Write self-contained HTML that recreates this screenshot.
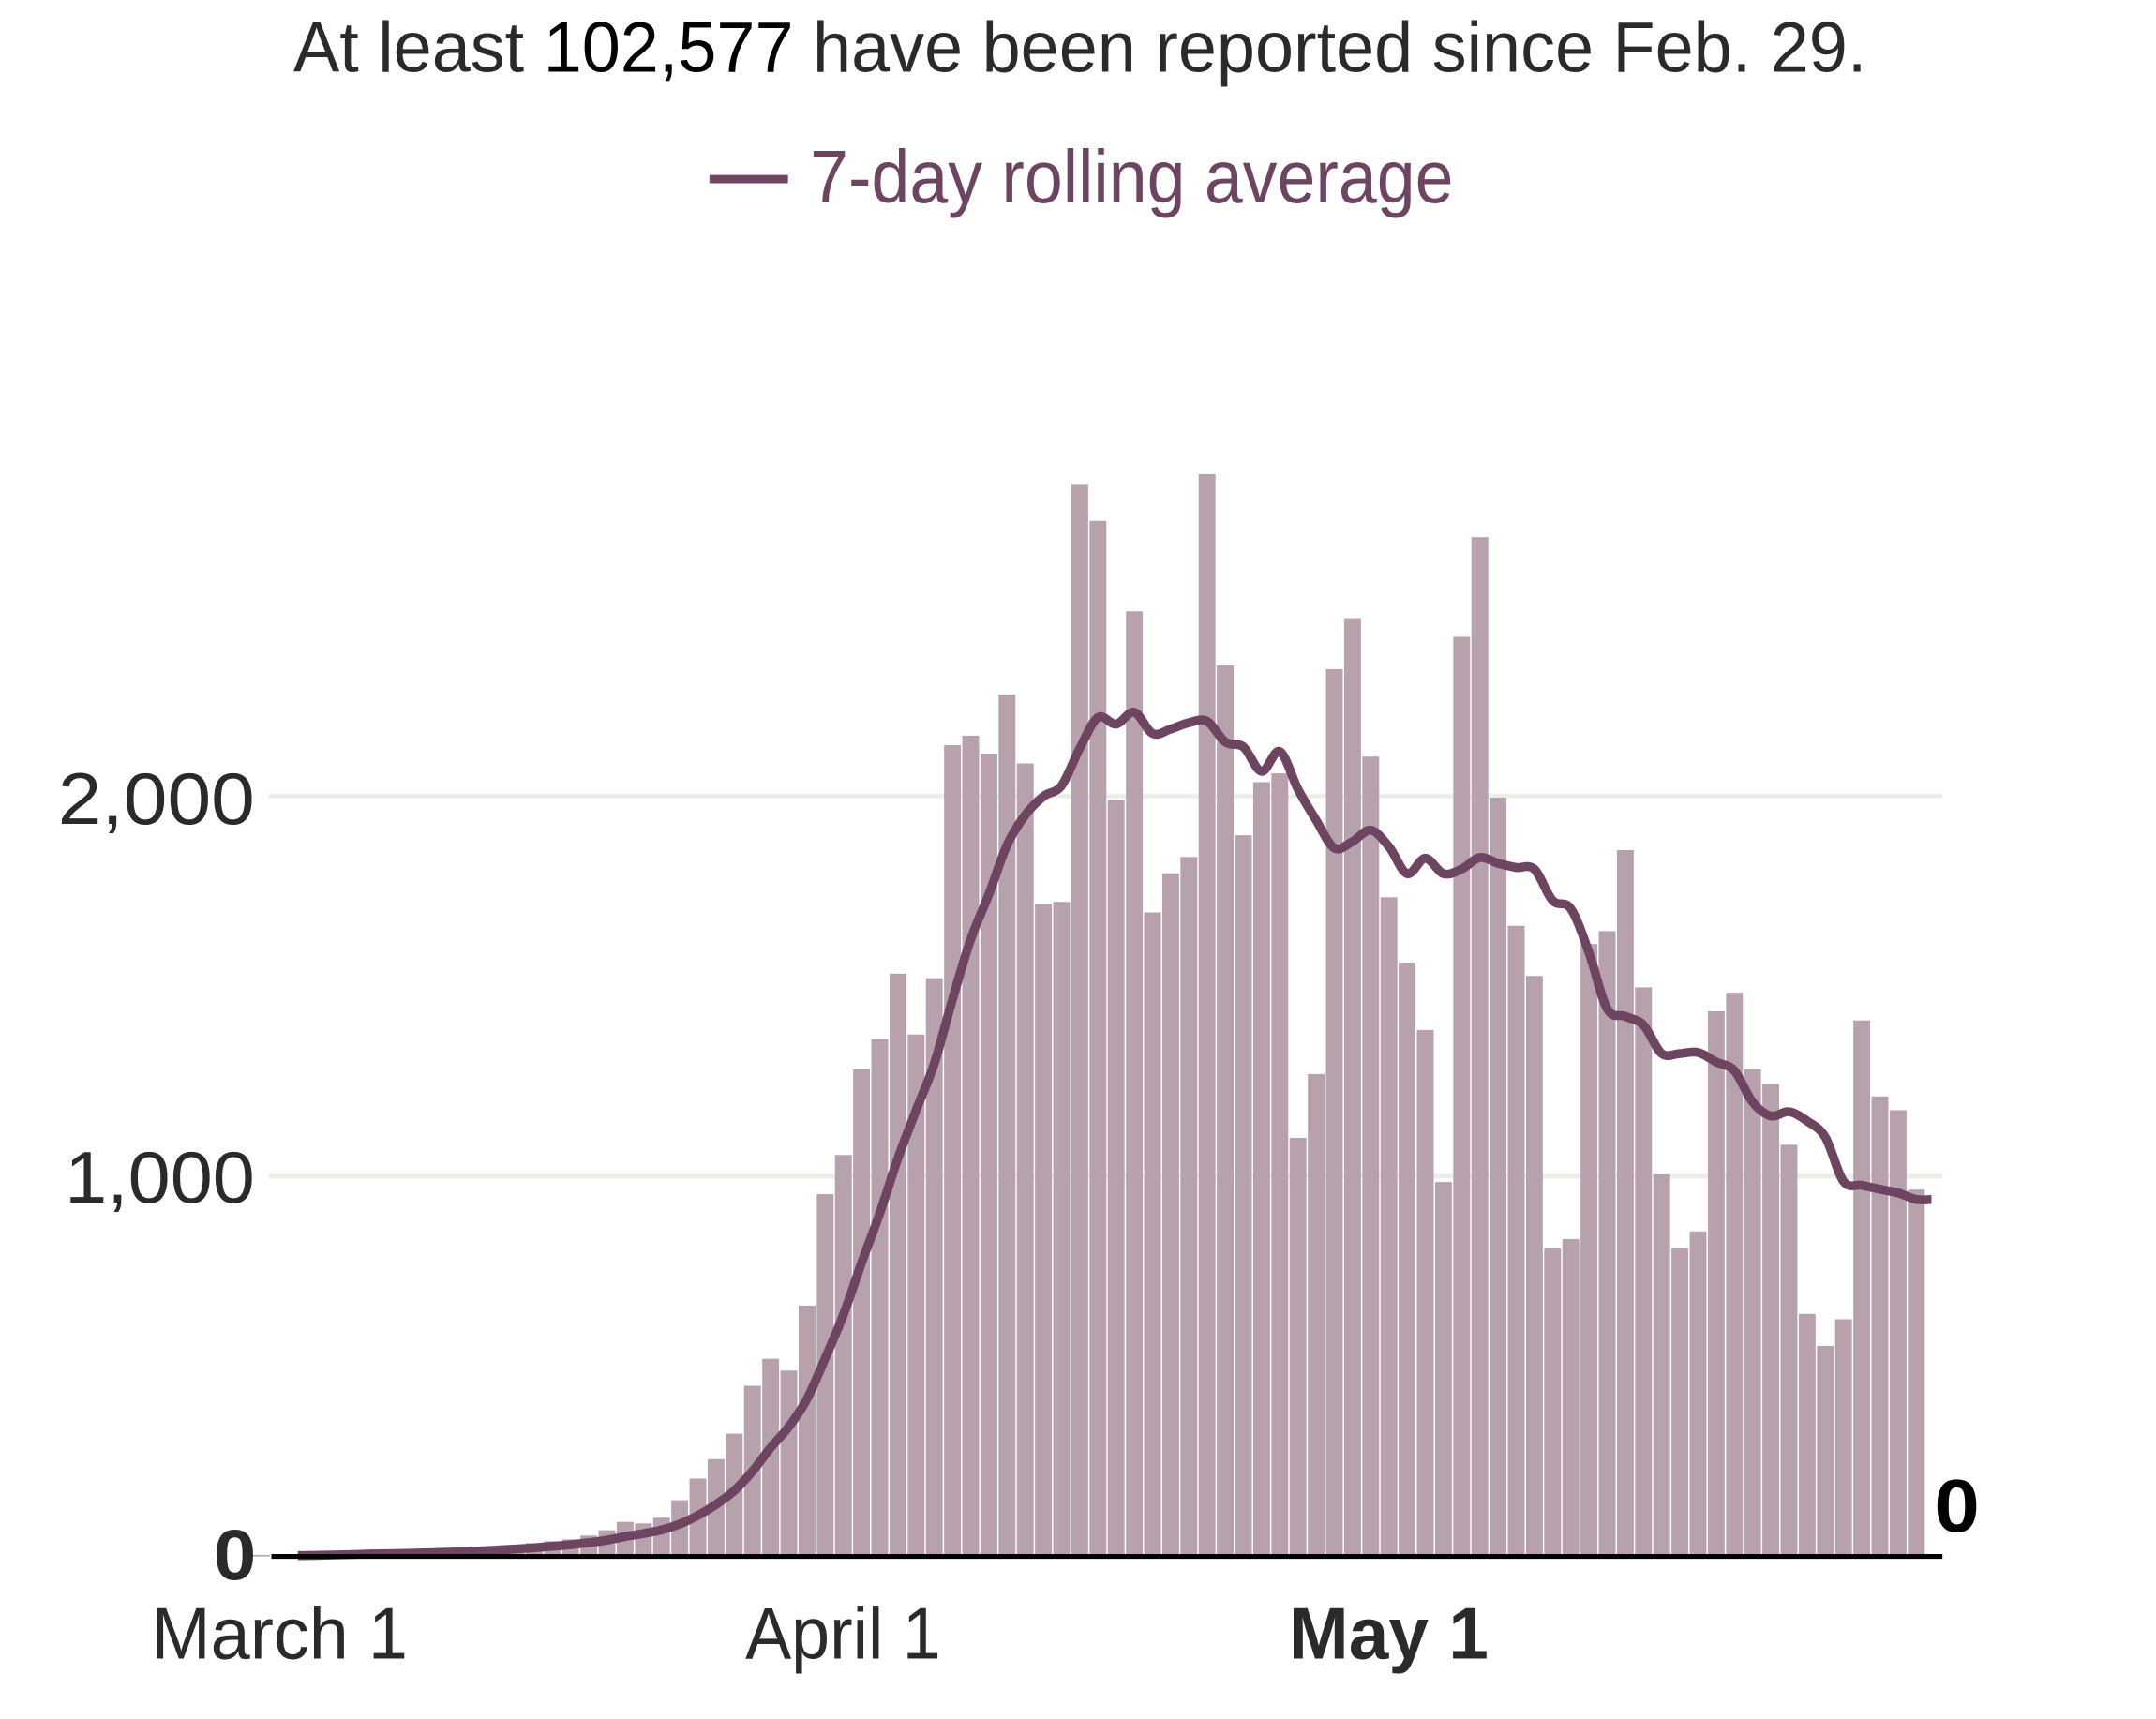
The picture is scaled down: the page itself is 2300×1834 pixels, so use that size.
<!DOCTYPE html>
<html><head><meta charset="utf-8"><style>
html,body{margin:0;padding:0;background:#fff;}
svg{display:block;}
text{font-family:"Liberation Sans Narrow","Liberation Sans",sans-serif;}
</style></head><body>
<svg id="s" xmlns="http://www.w3.org/2000/svg" width="2300" height="1834" viewBox="0 0 1565 1248" preserveAspectRatio="none">
<rect width="1565" height="1248" fill="#fff"/>
<text x="784" y="52" text-anchor="middle" font-size="52" fill="#2a2a2a" textLength="1142" lengthAdjust="spacingAndGlyphs">At least <tspan fill="#000">102,577</tspan> have been reported since Feb. 29.</text>
<line x1="515" y1="130" x2="572" y2="130" stroke="#6d4560" stroke-width="6"/>
<text x="588" y="147" font-size="54" fill="#6d4560" textLength="467" lengthAdjust="spacingAndGlyphs">7-day rolling average</text>
<line x1="195" y1="578" x2="1410" y2="578" stroke="#ecece6" stroke-width="3"/>
<line x1="195" y1="854" x2="1410" y2="854" stroke="#ecece6" stroke-width="3"/>
<g id="bars" fill="#b7a1ad"></g>
<path id="avg" fill="none" stroke="#6d4560" stroke-width="6.5" stroke-linejoin="round" stroke-linecap="butt"/>
<line x1="197" y1="1130" x2="1410" y2="1130" stroke="#000" stroke-width="3.5"/>
<text x="185" y="598" text-anchor="end" font-size="53" fill="#2a2a2a" textLength="143" lengthAdjust="spacingAndGlyphs">2,000</text>
<text x="185" y="873" text-anchor="end" font-size="53" fill="#2a2a2a" textLength="138" lengthAdjust="spacingAndGlyphs">1,000</text>
<text x="186" y="1147" text-anchor="end" font-size="52" font-weight="bold" fill="#2a2a2a" textLength="31" lengthAdjust="spacingAndGlyphs">0</text>
<text x="1404" y="1112" font-size="54" font-weight="bold" fill="#000" textLength="33" lengthAdjust="spacingAndGlyphs">0</text>
<text x="203" y="1204" text-anchor="middle" font-size="53" fill="#2a2a2a" textLength="186" lengthAdjust="spacingAndGlyphs">March 1</text>
<text x="612" y="1204" text-anchor="middle" font-size="53" fill="#2a2a2a" textLength="142" lengthAdjust="spacingAndGlyphs">April 1</text>
<text x="1008" y="1204" text-anchor="middle" font-size="53" font-weight="bold" fill="#2a2a2a" textLength="145" lengthAdjust="spacingAndGlyphs">May 1</text>
</svg>
<script>
var vals={"-1":4,0:5,1:6,2:6,3:7,4:8,5:9,6:10,7:12,8:14,9:16,10:18,11:22,12:26,13:30,14:35,15:40,16:45,17:55,
18:69,19:91,20:87,21:102,22:148,23:205,24:256,25:323,26:449,27:520,28:489,29:660,30:953,31:1056,32:1281,33:1361,34:1533,35:1373,36:1521,
37:2134,38:2159,39:2112,40:2267,41:2086,42:1716,43:1722,44:2821,45:2724,46:1990,47:2486,48:1694,49:1797,50:1840,51:2847,52:2344,53:1897,54:2037,55:2060,
56:1101,57:1269,58:2334,59:2468,60:2104,61:1734,62:1562,63:1385,64:985,65:2419,66:2681,67:1996,68:1659,69:1527,70:810,71:835,72:1611,73:1645,74:1858,
75:1497,76:1005,77:810,78:855,79:1434,80:1483,81:1282,82:1243,83:1083,84:638,85:554,86:624,87:1410,88:1210,89:1174,90:965};
var NS="http://www.w3.org/2000/svg",g=document.getElementById("bars");
function X(d){return 203+13.2*d;}function Y(v){return 1130-v*0.276;}
for(var d=-1;d<=90;d++){var v=vals[d];var r=document.createElementNS(NS,"rect");
r.setAttribute("x",(X(d)-6.1).toFixed(2));r.setAttribute("width","12.2");
r.setAttribute("y",Y(v).toFixed(2));r.setAttribute("height",(v*0.276).toFixed(2));g.appendChild(r);}
var pts=[];
for(var d=1;d<=90;d++){var s=0;for(var k=d-6;k<=d;k++){if(vals[k]!==undefined){s+=vals[k];}}
pts.push([X(d),Y(s/7)]);}
pts.push([1402,pts[pts.length-1][1]]);
var p="M"+pts[0][0].toFixed(1)+","+pts[0][1].toFixed(1);
for(var i=0;i<pts.length-1;i++){var p0=pts[Math.max(0,i-1)],p1=pts[i],p2=pts[i+1],p3=pts[Math.min(pts.length-1,i+2)];
var c1x=p1[0]+(p2[0]-p0[0])/6,c1y=p1[1]+(p2[1]-p0[1])/6,c2x=p2[0]-(p3[0]-p1[0])/6,c2y=p2[1]-(p3[1]-p1[1])/6;
p+=" C"+c1x.toFixed(1)+","+c1y.toFixed(1)+" "+c2x.toFixed(1)+","+c2y.toFixed(1)+" "+p2[0].toFixed(1)+","+p2[1].toFixed(1);}
document.getElementById("avg").setAttribute("d",p);
</script>
</body></html>
